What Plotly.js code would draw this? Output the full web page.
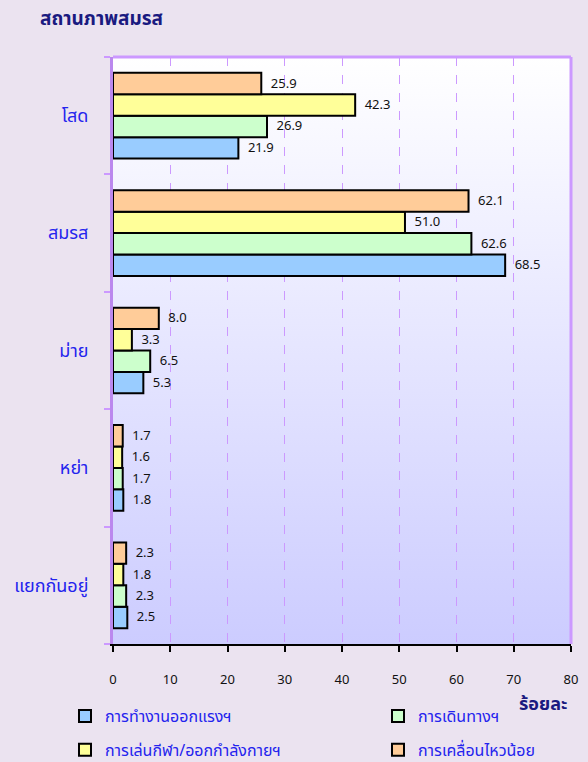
<!DOCTYPE html>
<html>
<head>
<meta charset="utf-8">
<script src="https://cdn.plot.ly/plotly-3.0.1.min.js"></script>
<style>
html,body{margin:0;padding:0;background:#ebe3f0;}
#chart{width:588px;height:762px;}
</style>
</head>
<body>
<div id="chart"></div>
<script>
var categories = ["โสด", "สมรส", "ม่าย", "หย่า", "แยกกันอยู่"];
var seriesNames = ["การทำงานออกแรงฯ", "การเดินทางฯ", "การเล่นกีฬา/ออกกำลังกายฯ", "การเคลื่อนไหวน้อย"];
var workValues = [21.9, 68.5, 5.3, 1.8, 2.5];
var travelValues = [26.9, 62.6, 6.5, 1.7, 2.3];
var sportValues = [42.3, 51.0, 3.3, 1.6, 1.8];
var sedentaryValues = [25.9, 62.1, 8.0, 1.7, 2.3];
var xTicks = [0, 10, 20, 30, 40, 50, 60, 70, 80];

var seriesValues = [workValues, travelValues, sportValues, sedentaryValues];
var colors = ["#99ccff", "#ccffcc", "#ffff99", "#ffcc99"];
var legendOf = ["legend", "legend2", "legend", "legend2"];
var FONT = "Tahoma, 'Noto Sans Thai', 'Leelawadee UI', 'DejaVu Sans', sans-serif";

var traces = seriesValues.map(function (vals, i) {
  return {
    type: "bar",
    orientation: "h",
    name: seriesNames[i],
    legend: legendOf[i],
    legendgroup: "g" + i,
    x: vals,
    y: categories,
    text: vals.map(function (v) { return "\u2002" + v.toFixed(1); }),
    textposition: "outside",
    cliponaxis: false,
    textfont: {family: FONT, size: 13, color: "#111111"},
    marker: {color: colors[i], line: {color: "#000000", width: 2}},
    hoverinfo: "x+name"
  };
});

var gradSvg = '<svg xmlns="http://www.w3.org/2000/svg" width="100" height="100" preserveAspectRatio="none">' +
  '<defs><linearGradient id="g" x1="0" y1="0" x2="0" y2="1">' +
  '<stop offset="0" stop-color="#ffffff"/><stop offset="1" stop-color="#ccccff"/>' +
  '</linearGradient></defs><rect width="100" height="100" fill="url(#g)"/></svg>';

var legendBase = {
  orientation: "v",
  xref: "container", yref: "container",
  xanchor: "left", yanchor: "top",
  y: 1 - 699 / 762,
  bgcolor: "rgba(0,0,0,0)",
  font: {family: FONT, size: 16, color: "#2424ee"},
  tracegroupgap: 10,
  traceorder: "grouped"
};

var layout = {
  width: 588,
  height: 762,
  paper_bgcolor: "#ebe3f0",
  plot_bgcolor: "rgba(0,0,0,0)",
  margin: {l: 113, r: 17, t: 57, b: 118, autoexpand: false},
  barmode: "group",
  bargap: 0.27,
  bargroupgap: 0,
  font: {family: FONT},
  title: {
    text: "<b>สถานภาพสมรส</b>",
    font: {family: FONT, size: 19, color: "#1a1a80"},
    xref: "container", x: 40 / 588, xanchor: "left",
    yref: "container", y: 1 - 18 / 762, yanchor: "middle"
  },
  xaxis: {
    range: [0, 80],
    tickvals: xTicks,
    ticktext: xTicks.map(String),
    ticks: "outside",
    ticklen: 6,
    tickwidth: 2,
    tickcolor: "#000000",
    ticklabelstandoff: 16,
    tickfont: {family: FONT, size: 13, color: "#111111"},
    showline: true,
    linecolor: "#000000",
    linewidth: 2,
    showgrid: true,
    gridcolor: "#cc99ff",
    griddash: "dash",
    gridwidth: 1,
    zeroline: false,
    fixedrange: true
  },
  yaxis: {
    type: "category",
    categoryorder: "array",
    categoryarray: categories.slice().reverse(),
    tickson: "boundaries",
    ticks: "outside",
    ticklen: 6,
    tickwidth: 2,
    tickcolor: "#cc99ff",
    ticklabelstandoff: 18,
    tickfont: {family: FONT, size: 18, color: "#2424ee"},
    showline: true,
    linecolor: "#bb88ee",
    linewidth: 3,
    showgrid: false,
    zeroline: false,
    fixedrange: true
  },
  shapes: [
    {type: "line", xref: "paper", yref: "paper", x0: 0, x1: 1, y0: 1, y1: 1,
     line: {color: "#cc99ff", width: 3}},
    {type: "line", xref: "paper", yref: "paper", x0: 1, x1: 1, y0: 0, y1: 1,
     line: {color: "#cc99ff", width: 3}}
  ],
  images: [{
    source: "data:image/svg+xml;charset=utf-8," + encodeURIComponent(gradSvg),
    xref: "paper", yref: "paper", x: 0, y: 1, sizex: 1, sizey: 1,
    xanchor: "left", yanchor: "top", sizing: "stretch", layer: "below"
  }],
  annotations: [{
    text: "<b>ร้อยละ</b>",
    xref: "paper", yref: "paper", x: 1, y: 0,
    xanchor: "right", yanchor: "top", yshift: -45, xshift: -2,
    showarrow: false,
    font: {family: FONT, size: 18, color: "#1a1a80"}
  }],
  showlegend: true,
  legend: Object.assign({}, legendBase, {x: 65 / 588}),
  legend2: Object.assign({}, legendBase, {x: 378 / 588})
};

Plotly.newPlot("chart", traces, layout, {displayModeBar: false, staticPlot: true});
</script>
</body>
</html>
